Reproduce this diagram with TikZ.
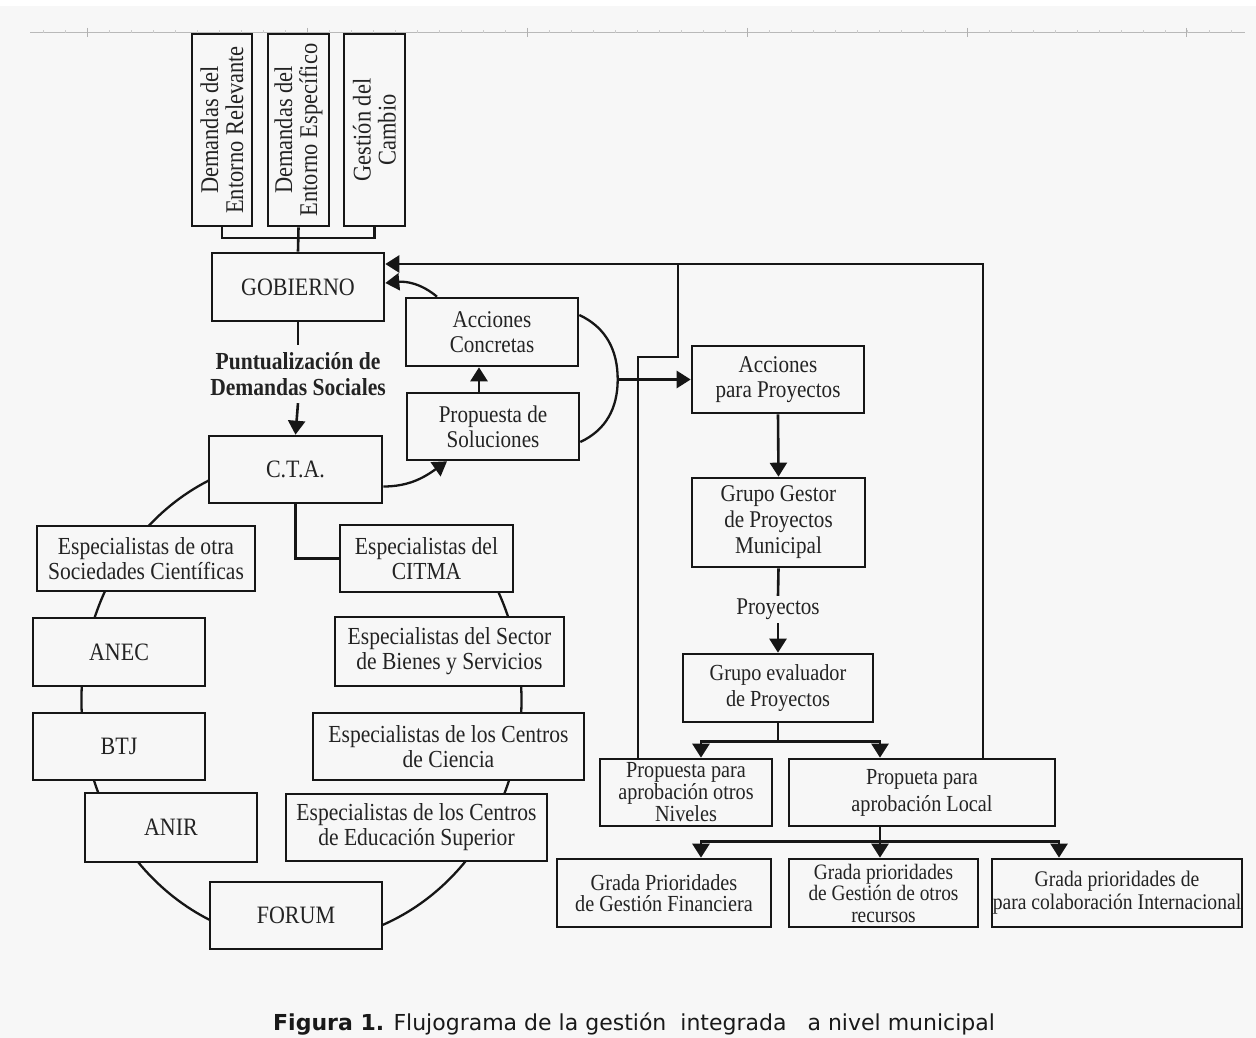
\documentclass[tikz,border=0pt]{standalone}
\usepackage{fontspec}
\setmainfont{Liberation Serif}[FakeStretch=0.88]
\newfontfamily\capfont{DejaVu Sans}
\usetikzlibrary{arrows.meta,calc}
\definecolor{bg}{RGB}{247,247,247}
\definecolor{ink}{RGB}{22,22,22}
\definecolor{txt}{RGB}{35,35,35}
\newcommand\fsz[2]{\fontsize{#1}{#2}\selectfont}
\begin{document}
\begin{tikzpicture}[x=1pt,y=1pt,
  box/.style={draw=ink, line width=2.6pt, fill=bg, align=center, inner sep=0pt, text=txt},
  lbl/.style={align=center, inner sep=0pt, text=txt},
  ln/.style={draw=ink, line width=2.6pt},
  arr/.style={ln, -{Triangle[length=14pt,width=17pt]}},
  curve/.style={draw=ink, line width=2.3pt},
  carr/.style={curve, -{Triangle[length=14pt,width=17pt]}},
]
\fill[white] (0,0) rectangle (1256,-1038);
\fill[bg] (0,-6) rectangle (1256,-1038);
\useasboundingbox (0,0) rectangle (1256,-1038);

% ruler
\draw[gray!55, line width=0.8pt] (30,-32) -- (1245,-32);
\foreach \x in {43,65,...,1240} \draw[gray!40, line width=0.5pt] (\x,-30.5) -- (\x,-33.5);
\foreach \x in {87,307,527,747,967,1186} \draw[gray!60, line width=0.8pt] (\x,-28) -- (\x,-37);

% ellipse of specialists (drawn behind boxes)
\draw[curve] (301.5,-700) ++(105:220pt and 242pt) arc[start angle=105, end angle=400, x radius=220pt, y radius=242pt];

% top vertical boxes
\node[box, rotate=90, minimum width=192pt, minimum height=60pt, font=\fsz{25.5}{25}] (d1) at (222,-130) {Demandas del\\Entorno Relevante};
\node[box, rotate=90, minimum width=192pt, minimum height=61pt, font=\fsz{25.5}{25}] (d2) at (298.5,-130) {Demandas del\\Entorno Específico};
\node[box, rotate=90, minimum width=192pt, minimum height=61pt, font=\fsz{25.5}{25}] (d3) at (374.5,-130) {Gestión del\\Cambio};

% left / centre column
\node[box, minimum width=172pt, minimum height=68pt, font=\fsz{25}{25}] (gob) at (298,-287) {GOBIERNO};
\node[lbl, minimum height=58pt, font=\fsz{24.5}{26}\bfseries] (punt) at (298,-374) {Puntualización de\\Demandas Sociales};
\node[box, minimum width=173pt, minimum height=67pt, font=\fsz{25}{25}] (cta) at (295.5,-469.5) {C.T.A.};
\node[box, minimum width=172pt, minimum height=68pt, font=\fsz{24}{25}] (acc) at (492,-332) {Acciones\\Concretas};
\node[box, minimum width=172pt, minimum height=67pt, font=\fsz{24}{25}] (prop) at (493,-426.5) {Propuesta de\\Soluciones};

\node[box, minimum width=218pt, minimum height=65pt, font=\fsz{24.5}{25}] (otra) at (146,-558.5) {Especialistas de otra\\Sociedades Científicas};
\node[box, minimum width=172pt, minimum height=68pt, font=\fsz{25}{25}] (anec) at (119,-652) {ANEC};
\node[box, minimum width=172pt, minimum height=67pt, font=\fsz{25}{25}] (btj) at (119,-746.5) {BTJ};
\node[box, minimum width=172pt, minimum height=69pt, font=\fsz{25}{25}] (anir) at (171,-827.5) {ANIR};
\node[box, minimum width=172pt, minimum height=67pt, font=\fsz{25}{25}] (forum) at (296,-915.5) {FORUM};
\node[box, minimum width=173pt, minimum height=67pt, font=\fsz{24.5}{25}] (citma) at (426.5,-558.5) {Especialistas del\\CITMA};
\node[box, minimum width=229pt, minimum height=69pt, font=\fsz{24.5}{25}] (bienes) at (449.5,-651.5) {Especialistas del Sector\\de Bienes y Servicios};
\node[box, minimum width=271pt, minimum height=67pt, font=\fsz{24.5}{25}] (ciencia) at (448.5,-746.5) {Especialistas de los Centros\\de Ciencia};
\node[box, minimum width=261pt, minimum height=67pt, font=\fsz{24.5}{25}] (edsup) at (416.5,-827.5) {Especialistas de los Centros\\de Educación Superior};

% right column
\node[box, minimum width=172pt, minimum height=67pt, font=\fsz{24}{25}] (accproy) at (778,-379.5) {Acciones\\para Proyectos};
\node[box, minimum width=173pt, minimum height=89pt, font=\fsz{24}{26}] (gestor) at (778.5,-522.5) {Grupo Gestor\\de Proyectos\\Municipal};
\node[lbl, minimum height=27pt, font=\fsz{24}{25}] (proy) at (778,-609.5) {Proyectos};
\node[box, minimum width=190pt, minimum height=68pt, font=\fsz{23}{26}] (eval) at (778,-688) {Grupo evaluador\\de Proyectos};
\node[box, minimum width=172pt, minimum height=67pt, font=\fsz{23}{22}] (niv) at (686,-792.5) {Propuesta para\\aprobación otros\\Niveles};
\node[box, minimum width=266pt, minimum height=67pt, font=\fsz{23}{27}] (loc) at (922,-792.5) {Propueta para\\aprobación Local};
\node[box, minimum width=214pt, minimum height=68pt, font=\fsz{23}{21}] (fin) at (664,-893) {Grada Prioridades\\de Gestión Financiera};
\node[box, minimum width=189pt, minimum height=68pt, font=\fsz{22}{21.5}] (otr) at (883.5,-893) {Grada prioridades\\de Gestión de otros\\recursos};
\node[box, minimum width=250pt, minimum height=68pt, font=\fsz{22.3}{23}] (intl) at (1117,-893) {Grada prioridades de\\para colaboración Internacional};

% coordinates for connector bends
\coordinate (dj) at (298.5,-238);
\coordinate (arcm) at ([xshift=-73pt]accproy.west);
\coordinate (fbj) at (678,-264);
\coordinate (fbk) at (678,-357);

% connectors
\draw[ln] (d1.west) |- (dj) -| (d3.west);
\draw[ln] (d2.west) -- (gob.north);
\draw[ln] (gob.south) -- (punt.north);
\draw[arr] (punt.south) -- (cta.north);
\draw[ln] (cta.south) |- (citma.west);
\draw[carr] ([yshift=-17pt]cta.east) to[out=0,in=215] ([xshift=-46pt]prop.south);
\draw[arr] ([xshift=-14pt]prop.north) -- ([xshift=-13pt]acc.south);
\draw[carr] ([xshift=-55pt]acc.north) to[out=140,in=5] ([yshift=4pt]gob.east);
\draw[curve] ([yshift=17pt]acc.east) to[out=-25,in=90] (arcm) to[out=-90,in=25] ([yshift=-15.5pt]prop.east);
\draw[arr] (arcm) -- (accproy.west);
\draw[arr] (accproy.south) -- (gestor.north);
\draw[ln] (gestor.south) -- (proy.north);
\draw[arr] (proy.south) -- (eval.north);
\draw[arr] (eval.south) -- ++(0,-18pt) -| ([xshift=15pt]niv.north);
\draw[arr] (eval.south) -- ++(0,-18pt) -| ([xshift=-42pt]loc.north);
\draw[arr] ([xshift=-42pt]loc.south) -- ++(0,-14pt) -| ([xshift=37pt]fin.north);
\draw[arr] ([xshift=-42pt]loc.south) -- ([xshift=-3.5pt]otr.north);
\draw[arr] ([xshift=-42pt]loc.south) -- ++(0,-14pt) -| ([xshift=-58pt]intl.north);
\draw[arr] ([xshift=61pt]loc.north) |- ([yshift=23pt]gob.east);
\draw[ln] ([xshift=-48pt]niv.north) |- (fbk) -- (fbj);

% caption
\node[anchor=base west, inner sep=0pt, text=black!90] (cap) at (273,-1030) {\capfont\fontsize{22}{26}\selectfont\textbf{Figura 1.} Flujograma de la gestión\ \ integrada\ \ \ a nivel municipal};
\end{tikzpicture}
\end{document}
